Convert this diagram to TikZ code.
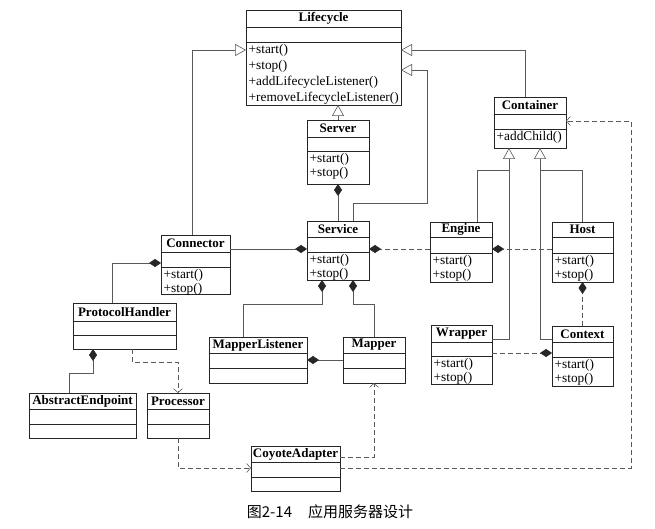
\documentclass[tikz,border=0pt]{standalone}
\usepackage{fontspec}
\setmainfont{Liberation Serif}
\newfontfamily\cjk{Noto Sans CJK SC}
\usetikzlibrary{arrows.meta}
\tikzset{
  clsbox/.style={draw=black!85, line width=0.7pt, fill=white, inner sep=0pt, outer sep=0pt},
  clssep/.style={draw=black!85, line width=0.7pt},
  clstitle/.style={font=\fontsize{13}{15}\selectfont\bfseries, inner sep=0pt},
  clsops/.style={font=\fontsize{13.3}{13.8}\selectfont, align=left, inner xsep=2.5pt, inner ysep=2.2pt},
  link/.style={draw=black!65, line width=0.6pt},
  deplink/.style={link, dash pattern=on 5pt off 3pt},
  gentip/.style={-{Triangle[open, length=11pt, width=12pt, fill=white]}},
  comptip/.style={-{Diamond[length=12pt, width=8pt, color=black!85]}},
  deptip/.style={-{Straight Barb[length=4pt, width=9pt]}},
  captionfont/.style={font=\cjk\fontsize{15}{17}\selectfont, inner sep=0pt}
}
\newcommand\umlclass[9]{%
  \node[clsbox, minimum width=#4pt, minimum height=#5pt, anchor=north west] (#1) at (#2,#3) {};
  \draw[clssep] ([yshift=-#6pt]#1.north west) -- ([yshift=-#6pt]#1.north east)
                ([yshift=-#7pt]#1.north west) -- ([yshift=-#7pt]#1.north east);
  \node[clstitle] (#1-t) at ([yshift={-0.5*#6pt}]#1.north) {#8};
  \node[clsops, anchor=north west] (#1-o) at ([yshift=-#7pt]#1.north west) {#9};
}
\begin{document}
\begin{tikzpicture}[x=1pt, y=-1pt]
\useasboundingbox (0,0) rectangle (655,529);

% classes
\umlclass{Lifecycle}{246}{10}{155}{95}{17}{32}{Lifecycle}{+start()\\[2pt]+stop()\\[2pt]+addLifecycleListener()\\[2pt]+removeLifecycleListener()}
\umlclass{Server}{307}{120}{62}{64}{17}{31}{Server}{+start()\\+stop()}
\umlclass{Container}{494}{97}{72}{51}{17}{32}{Container}{+addChild()}
\umlclass{Connector}{161}{235}{69}{59}{17}{32}{Connector}{+start()\\+stop()}
\umlclass{Service}{307}{221}{62}{59}{16}{31}{Service}{+start()\\+stop()}
\umlclass{Engine}{430}{222}{62}{60}{15}{31}{Engine}{+start()\\+stop()}
\umlclass{Host}{552}{222}{61}{60}{15}{31}{Host}{+start()\\+stop()}
\umlclass{ProtocolHandler}{73}{303}{103}{46}{18}{32}{ProtocolHandler}{}
\umlclass{MapperListener}{209}{337}{98}{46}{16}{31}{MapperListener}{}
\umlclass{Mapper}{343}{337}{62}{46}{16}{31}{Mapper}{}
\umlclass{Wrapper}{431}{325}{61}{59}{17}{31}{Wrapper}{+start()\\+stop()}
\umlclass{Context}{552}{326}{61}{60}{16}{31}{Context}{+start()\\+stop()}
\umlclass{AbstractEndpoint}{29}{393}{107}{45}{16}{31}{AbstractEndpoint}{}
\umlclass{Processor}{147}{393}{62}{45}{16}{31}{Processor}{}
\umlclass{CoyoteAdapter}{251}{446}{89}{45}{16}{31}{CoyoteAdapter}{}

% generalizations to Lifecycle
\draw[link, gentip] ([xshift=31pt]Connector.north west) |- ([yshift=-40pt]Lifecycle.north west);
\draw[link, gentip] ([xshift=46pt]Service.north west) |- (427,203) |- ([yshift=-60pt]Lifecycle.north east);
\draw[link, gentip] ([xshift=31pt]Container.north west) |- ([yshift=-40pt]Lifecycle.north east);
\draw[link, gentip] (Server.north) -- (Server.north |- Lifecycle.south);

% generalizations to Container
\draw[link] ([xshift=47pt]Engine.north west) |- (509,170);
\draw[link, gentip] ([yshift=-14pt]Wrapper.north east) -| ([xshift=15pt]Container.south west);
\draw[link] ([xshift=30pt]Host.north west) |- (540,170);
\draw[link, gentip] ([yshift=-13pt]Context.north west) -| ([xshift=46pt]Container.south west);

% compositions
\draw[link, comptip] (Service.north) -- (Server.south);
\draw[link, comptip] ([yshift=-14pt]Connector.north east) -- ([yshift=-28pt]Service.north west);
\draw[deplink, comptip] ([yshift=-27pt]Engine.north west) -- ([yshift=-28pt]Service.north east);
\draw[deplink, comptip] ([yshift=-27pt]Host.north west) -- ([yshift=-27pt]Engine.north east);
\draw[deplink, comptip] (Context.north) -- (Host.south);
\draw[deplink, comptip] ([yshift=-28pt]Wrapper.north east) -- ([yshift=-27pt]Context.north west);
\draw[link, comptip] ([xshift=39pt]ProtocolHandler.north west) |- ([yshift=-28pt]Connector.north west);
\draw[link, comptip] ([xshift=40pt]AbstractEndpoint.north west) |- (93,373) -- ([xshift=20pt]ProtocolHandler.south west);
\draw[link, comptip] ([xshift=34pt]MapperListener.north west) |- (322,304) -- ([xshift=15pt]Service.south west);
\draw[link, comptip] (Mapper.north) |- (353,304) -- ([xshift=46pt]Service.south west);
\draw[link, comptip] (Mapper.west) -- (MapperListener.east);

% dependencies
\draw[deplink, deptip] ([xshift=59pt]ProtocolHandler.south west) |- (178,362) -- (Processor.north);
\draw[deplink, deptip] (Processor.south) |- ([yshift=-22pt]CoyoteAdapter.north west);
\draw[deplink, deptip] ([yshift=-11pt]CoyoteAdapter.north east) -| (Mapper.south);
\draw[deplink, deptip] ([yshift=-22pt]CoyoteAdapter.north east) -| (631,121) -- ([yshift=-24pt]Container.north east);

% caption
\node[captionfont] (caption) at (330,512) {图2-14\hspace{16pt}应用服务器设计};
\end{tikzpicture}
\end{document}
